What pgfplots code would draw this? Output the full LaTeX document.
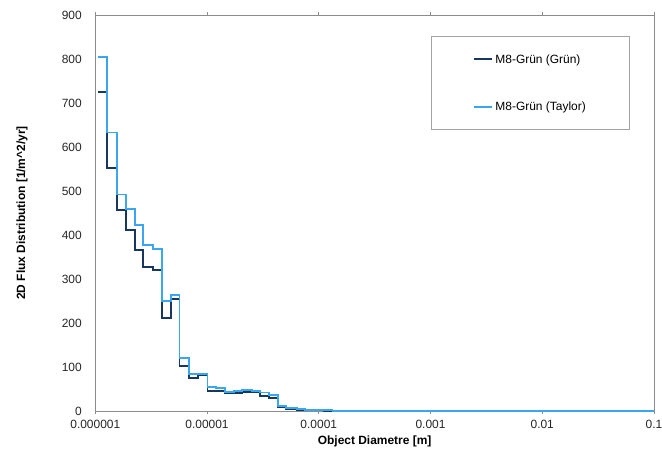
\documentclass[border=0pt]{standalone}
\usepackage{fontspec}
\setmainfont{Liberation Sans}
\usepackage{pgfplots}
\pgfplotsset{compat=1.18}
\definecolor{darkline}{HTML}{17375E}
\definecolor{lightline}{HTML}{3AA6EE}
\definecolor{framegray}{HTML}{8C8C8C}
\begin{document}
\begin{tikzpicture}
\begin{axis}[
  at={(0,0)}, anchor=south west,
  scale only axis, width=558.7bp, height=396bp,
  xmode=log, xmin=1e-6, xmax=0.1, ymin=0, ymax=900,
  xtick={1e-6,1e-5,1e-4,1e-3,1e-2,1e-1},
  xticklabels={0.000001,0.00001,0.0001,0.001,0.01,0.1},
  ytick={0,100,...,900},
  xminorticks=false,
  tick align=outside,
  major tick length=3bp,
  every tick/.style={framegray, line width=0.75bp},
  ytick style={draw=none},
  axis line style={framegray, line width=0.75bp},
  /pgf/number format/assume math mode=true,
  tick label style={font=\fontsize{12}{14}\selectfont, color=black!85},
  xticklabel style={yshift=-3bp},
  yticklabel style={xshift=-7bp},
  label style={font=\bfseries\fontsize{12}{14}\selectfont},
  xlabel={Object Diametre [m]},
  ylabel={2D Flux Distribution [1/m\^{}2/yr]},
  xlabel style={at={(axis description cs:0.5,-0.0758)}, anchor=center},
  ylabel style={at={(axis description cs:-0.131,0.5)}, anchor=center},
  legend style={at={(0.601,0.947)}, anchor=north west, draw=framegray!80, line width=0.75bp,
    font=\fontsize{12}{14}\selectfont, inner xsep=42bp, inner ysep=16bp, row sep=33bp,
    cells={anchor=west}},
  legend image code/.code={\draw[#1, line width=2bp] (0bp,0bp) -- (18bp,0bp);},
]
\addplot[const plot, darkline, line width=1.9bp, line join=miter] coordinates {
(1.064e-6,725)
(1.281e-6,553)
(1.575e-6,457)
(1.874e-6,411)
(2.256e-6,366)
(2.695e-6,328)
(3.293e-6,320)
(3.939e-6,211)
(4.746e-6,254)
(5.668e-6,103)
(6.925e-6,76)
(8.285e-6,82)
(1.010e-5,46)
(1.202e-5,45)
(1.456e-5,40)
(1.729e-5,41)
(2.056e-5,44)
(2.527e-5,42)
(3.0e-5,35)
(3.613e-5,30)
(4.324e-5,10)
(5.131e-5,5)
(6.401e-5,3)
(7.598e-5,2)
(9.34e-5,1.5)
(1.102e-4,1)
(1.327e-4,0.5)
(1.924e-4,0)
(0.1,0)
};
\addlegendentry{M8-Grün (Grün)}
\addplot[const plot, lightline, line width=1.9bp, line join=miter] coordinates {
(1.064e-6,805)
(1.281e-6,633)
(1.575e-6,492)
(1.874e-6,459)
(2.256e-6,423)
(2.695e-6,377)
(3.293e-6,368)
(3.939e-6,250)
(4.746e-6,263)
(5.668e-6,120)
(6.925e-6,85)
(8.285e-6,84)
(1.010e-5,54)
(1.202e-5,52)
(1.456e-5,43)
(1.729e-5,45)
(2.056e-5,48)
(2.527e-5,45)
(3.0e-5,42)
(3.613e-5,36)
(4.324e-5,12)
(5.131e-5,7)
(6.401e-5,5)
(7.598e-5,3)
(9.34e-5,2)
(1.102e-4,1.5)
(1.327e-4,1)
(1.924e-4,0)
(0.1,0)
};
\addlegendentry{M8-Grün (Taylor)}
\end{axis}
\pgfresetboundingbox
\path[use as bounding box] (-95.3bp,-44bp) rectangle (566.7bp,411bp);
\end{tikzpicture}
\end{document}
